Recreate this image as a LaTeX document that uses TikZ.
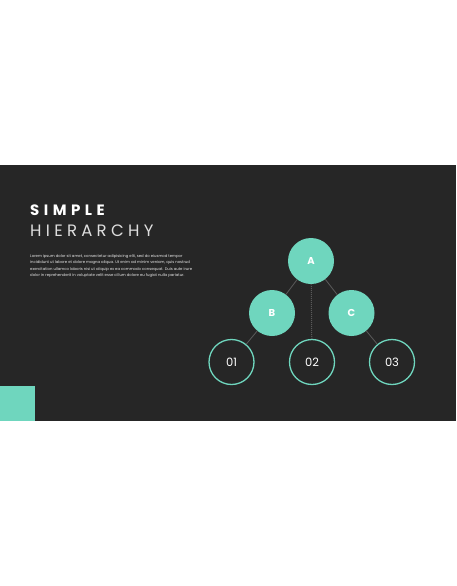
\documentclass[tikz,border=0pt]{standalone}
\usepackage{fontspec}
\setmainfont{Poppins}
\newfontfamily\titlefontA[LetterSpace=30]{Poppins}
\newfontfamily\titlefontB[LetterSpace=26]{Poppins}
\definecolor{bgdark}{HTML}{262626}
\definecolor{teal}{HTML}{6FD6BE}
\definecolor{linkgray}{HTML}{5A5A5A}
\tikzset{
  filled/.style={circle, fill=teal, minimum size=46pt, inner sep=0pt, text=white, font=\fontsize{10}{12}\selectfont\bfseries},
  outlined/.style={circle, draw=teal, line width=1.3pt, fill=bgdark, minimum size=45pt, inner sep=0pt, text=white, font=\fontsize{11.5}{13}\selectfont},
  link/.style={draw=linkgray, line width=0.8pt},
  dottedlink/.style={draw=linkgray, line width=1pt, dash pattern=on 1pt off 1pt}
}
\begin{document}
\begin{tikzpicture}[x=1pt,y=-1pt]
\useasboundingbox (0,0) rectangle (456,586);
\fill[white] (0,0) rectangle (456,586);
\fill[bgdark] (0,165) rectangle (456,421);
\fill[teal] (0,386) rectangle (35,421);
% title
\node[anchor=base west, inner sep=0pt, text=white, font=\titlefontA\fontsize{15}{18}\selectfont\bfseries] (t1) at (30,215) {SIMPLE};
\node[anchor=base west, inner sep=0pt, text=white!85!bgdark, font=\titlefontB\fontsize{16.5}{19}\selectfont] (t2) at (30,236) {HIERARCHY};
% body
\node[anchor=north west, inner sep=0pt, align=left, text=white!90!bgdark, font=\fontsize{3.8}{6.3}\selectfont] (body) at (30,254.5) {Lorem ipsum dolor sit amet, consectetur adipisicing elit, sed do eiusmod tempor\\incididunt ut labore et dolore magna aliqua. Ut enim ad minim veniam, quis nostrud\\exercitation ullamco laboris nisi ut aliquip ex ea commodo consequat. Duis aute irure\\dolor in reprehenderit in voluptate velit esse cillum dolore eu fugiat nulla pariatur.};
% nodes
\node[outlined] (n1) at (231.5,362) {01};
\node[outlined] (n2) at (312,362) {02};
\node[outlined] (n3) at (392,362) {03};
\node[filled] (a) at (311,261) {A};
\node[filled] (b) at (272,313) {B};
\node[filled] (c) at (351.5,313) {C};
% links
\path[link] (a) -- (b);
\path[link] (a) -- (c);
\path[link] (b) -- (n1);
\path[link] (c) -- (n3);
\path[dottedlink] (a) -- (n2);
\end{tikzpicture}
\end{document}
